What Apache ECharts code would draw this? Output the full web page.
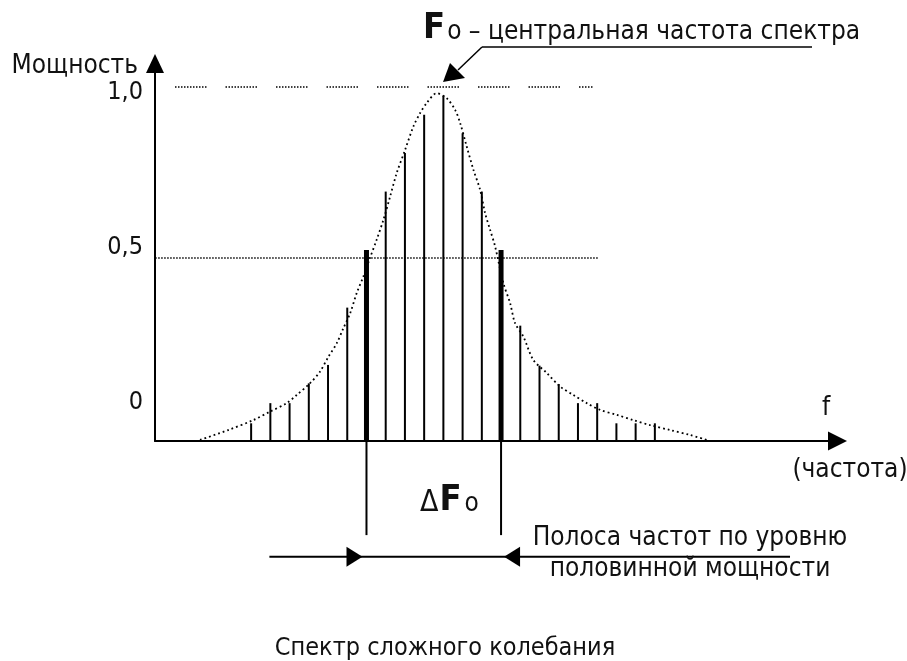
<!DOCTYPE html>
<html>
<head>
<meta charset="utf-8">
<script src="https://cdn.jsdelivr.net/npm/echarts@6/dist/echarts.min.js"></script>
<style>
html, body { margin: 0; padding: 0; background: #fff; }
#main { width: 907px; height: 661px; }
</style>
</head>
<body>
<div id="main"></div>
<script>
// спектральные составляющие: номер и относительная мощность
const barIndex = [0, 1, 2, 3, 4, 5, 6, 7, 8, 9, 10, 11, 12, 13, 14, 15, 16, 17, 18, 19, 20, 21]
const barPower = [0.05, 0.107, 0.107, 0.163, 0.215, 0.377, 0.54, 0.705, 0.814, 0.922, 0.976,
  0.87, 0.705, 0.54, 0.326, 0.213, 0.161, 0.107, 0.107, 0.05, 0.05, 0.05]
// составляющие на уровне половинной мощности (жирные)
const halfPowerBars = [6, 13]

// огибающая спектра (пунктир)
const envelopeX = [-2.66, -1.19, 0.11, 0.98, 1.85, 2.37, 3.06, 3.58, 4.02, 4.45, 4.8, 5.15, 5.49,
  5.84, 6.18, 6.53, 6.88, 7.23, 7.57, 8.01, 8.44, 8.79, 9.13, 9.65, 10.17, 10.61, 10.87, 11.21,
  11.56, 11.91, 12.17, 12.43, 12.69, 13.12, 13.47, 13.73, 14.16, 14.68, 15.38, 16.07, 16.76,
  17.46, 18.15, 19.02, 19.88, 20.75, 21.79, 22.83, 23.7]
const envelopeY = [0.003, 0.031, 0.059, 0.083, 0.107, 0.13, 0.163, 0.196, 0.238, 0.276, 0.319,
  0.361, 0.418, 0.465, 0.517, 0.569, 0.625, 0.691, 0.757, 0.823, 0.889, 0.927, 0.955, 0.983,
  0.969, 0.936, 0.899, 0.833, 0.767, 0.71, 0.644, 0.597, 0.55, 0.446, 0.39, 0.333, 0.295, 0.229,
  0.192, 0.154, 0.13, 0.107, 0.088, 0.074, 0.059, 0.045, 0.031, 0.017, 0.003]

// уровни и подписи оси
const peakLevel = 1.0
const peakLineX = [-3.96, 17.8]
const halfLevel = 0.518
const halfLineX = [-4.99, 18.05]
const yTickLabels = ["0", "0,5", "1,0"]
const yTickAt = [0.11, 0.546, 0.984]

// полоса частот под осью
const bandDrop = -0.266
const bandLevel = -0.327
const bandLineX = [0.95, 28.03]

const font = "'DejaVu Sans Condensed', 'Liberation Sans Narrow', 'DejaVu Sans', sans-serif"

// точечный пунктир группами для линии 1,0
let groupDash = []
for (let k = 0; k < 11; k++) groupDash.push(1.5, 1.5)
groupDash[groupDash.length - 1] = 19

function renderBar (params, api) {
  const x = api.value(0)
  const top = api.coord([x, api.value(1)])
  const base = api.coord([x, 0])
  const w = halfPowerBars.indexOf(x) >= 0 ? 5 : 2
  return {
    type: "rect",
    shape: { x: top[0] - w / 2, y: top[1], width: w, height: base[1] - top[1] },
    style: { fill: "#000" }
  }
}

function renderBand (params, api) {
  const l = api.coord([halfPowerBars[0], 0])
  const r = api.coord([halfPowerBars[1], 0])
  const ld = api.coord([halfPowerBars[0], bandDrop])
  const rd = api.coord([halfPowerBars[1], bandDrop])
  const a = api.coord([bandLineX[0], bandLevel])
  const b = api.coord([bandLineX[1], bandLevel])
  const y = a[1]
  const tl = l[0] - 4
  const tr = r[0] + 3
  const st = { stroke: "#000", lineWidth: 2 }
  return {
    type: "group",
    children: [
      { type: "line", shape: { x1: l[0], y1: l[1], x2: ld[0], y2: ld[1] }, style: st },
      { type: "line", shape: { x1: r[0], y1: r[1], x2: rd[0], y2: rd[1] }, style: st },
      { type: "line", shape: { x1: a[0], y1: y, x2: b[0], y2: y }, style: st },
      { type: "polygon", shape: { points: [[tl, y], [tl - 16, y - 10], [tl - 16, y + 10]] }, style: { fill: "#000" } },
      { type: "polygon", shape: { points: [[tr, y], [tr + 16, y - 10], [tr + 16, y + 10]] }, style: { fill: "#000" } }
    ]
  }
}

let chart = echarts.init(document.getElementById("main"))
let txt = { fontFamily: font, fontSize: 26, fontWeight: "normal", color: "#111" }

let option = {
  animation: false,
  backgroundColor: "#fff",
  title: [
    {
      text: "{F|F}{t|o – центральная частота спектра}",
      left: 423, top: 9, padding: 0,
      textStyle: {
        fontWeight: "normal",
        rich: {
          F: { fontFamily: font, fontSize: 36, fontWeight: "bold", color: "#111", lineHeight: 40 },
          t: { fontFamily: font, fontSize: 26, fontWeight: "normal", color: "#111", lineHeight: 40, padding: [6, 0, 0, 2] }
        }
      }
    },
    { text: "f", left: 826, top: 395, padding: 0, textAlign: "center", textStyle: txt },
    { text: "(частота)", left: 850, top: 457, padding: 0, textAlign: "center", textStyle: txt },
    {
      text: "{d|Δ}{F|F}{o|o}",
      left: 420, top: 481, padding: 0,
      textStyle: {
        fontWeight: "normal",
        rich: {
          d: { fontFamily: font, fontSize: 30, fontWeight: "normal", color: "#111", lineHeight: 40, padding: [4, 1, 0, 0] },
          F: { fontFamily: font, fontSize: 36, fontWeight: "bold", color: "#111", lineHeight: 40 },
          o: { fontFamily: font, fontSize: 26, fontWeight: "normal", color: "#111", lineHeight: 40, padding: [6, 0, 0, 3] }
        }
      }
    },
    {
      text: "Полоса частот по уровню\nполовинной мощности",
      left: 690, top: 523, padding: 0, textAlign: "center",
      textStyle: Object.assign({}, txt, { lineHeight: 31 })
    },
    {
      text: "Спектр сложного колебания",
      left: 445, top: 633, padding: 0, textAlign: "center",
      textStyle: Object.assign({}, txt, { fontSize: 25, lineHeight: 30 })
    }
  ],
  graphic: [
    { type: "line", shape: { x1: 482, y1: 47, x2: 812, y2: 47 }, style: { stroke: "#000", lineWidth: 1.5 } },
    { type: "line", shape: { x1: 482, y1: 47, x2: 458, y2: 70 }, style: { stroke: "#000", lineWidth: 1.5 } },
    { type: "polygon", shape: { points: [[443, 82], [450, 63], [465, 78]] }, style: { fill: "#000" } }
  ],
  grid: { left: 155, right: 69.5, top: 63.5, bottom: 220, outerBoundsMode: "none" },
  xAxis: {
    type: "value", min: -5, max: 30.5,
    splitLine: { show: false }, axisTick: { show: false }, axisLabel: { show: false },
    axisLine: { symbol: ["none", "triangle"], symbolSize: [19, 19], lineStyle: { color: "#000", width: 2 } }
  },
  yAxis: {
    type: "value", min: 0, max: 1.067,
    splitLine: { show: false }, axisTick: { show: false },
    axisLine: { onZero: false, symbol: ["none", "triangle"], symbolSize: [18, 19], lineStyle: { color: "#000", width: 2 } },
    axisLabel: {
      customValues: yTickAt,
      formatter: v => yTickLabels[yTickAt.indexOf(v)],
      margin: 12, fontFamily: font, fontSize: 25, color: "#111"
    },
    name: "Мощность", nameLocation: "end", nameGap: -3,
    nameTextStyle: { fontFamily: font, fontSize: 26, color: "#111", align: "right", verticalAlign: "middle", padding: [0, 17, 0, 0] }
  },
  series: [
    {
      type: "line",
      data: envelopeX.map((x, i) => [x, envelopeY[i]]),
      smooth: 0.3, showSymbol: false, silent: true,
      lineStyle: { color: "#000", width: 1.8, type: [1.8, 3] },
      markLine: {
        silent: true, symbol: "none", label: { show: false },
        lineStyle: { color: "#000", width: 1.5, type: [1.5, 1.5] },
        data: [
          [{ coord: [peakLineX[0], peakLevel], lineStyle: { type: groupDash } }, { coord: [peakLineX[1], peakLevel] }],
          [{ coord: [halfLineX[0], halfLevel] }, { coord: [halfLineX[1], halfLevel] }]
        ]
      }
    },
    {
      type: "custom",
      renderItem: renderBar,
      data: barIndex.map((x, i) => [x, barPower[i]]),
      silent: true
    },
    {
      type: "custom",
      renderItem: renderBand,
      data: [[0, 0]],
      silent: true,
      clip: false
    }
  ]
}

chart.setOption(option)
</script>
</body>
</html>
